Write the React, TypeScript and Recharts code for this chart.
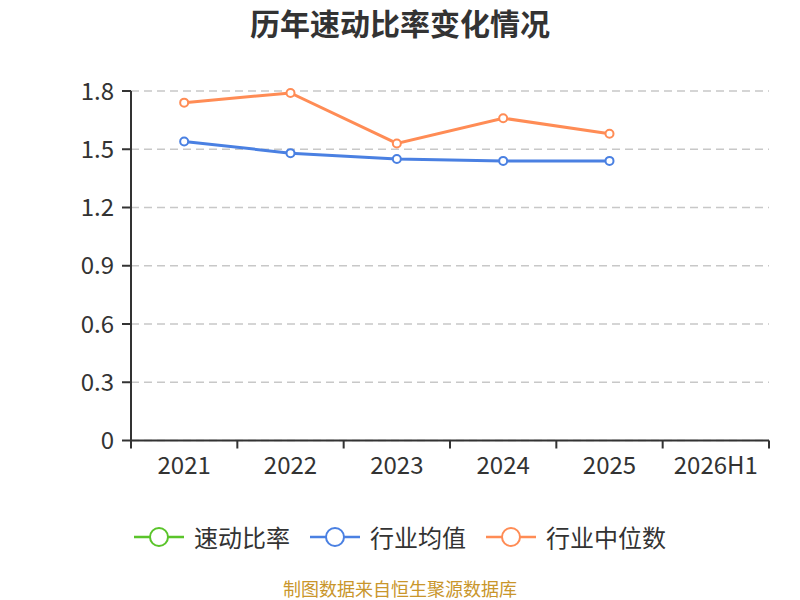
import React from "react";
import { LineChart, Line, XAxis, YAxis, CartesianGrid } from "recharts";

const categories = ["2021", "2022", "2023", "2024", "2025", "2026H1"];
const quickRatio: (number | null)[] = [null, null, null, null, null, null];
const industryMean: (number | null)[] = [1.54, 1.48, 1.45, 1.44, 1.44, null];
const industryMedian: (number | null)[] = [1.74, 1.79, 1.53, 1.66, 1.58, null];
const yTicks = [0, 0.3, 0.6, 0.9, 1.2, 1.5, 1.8];

const series = [
  { key: "quick", name: "速动比率", color: "#5ac42a" },
  { key: "mean", name: "行业均值", color: "#4a80e2" },
  { key: "median", name: "行业中位数", color: "#ff8c55" },
];

const data = categories.map((c, i) => ({
  year: c,
  quick: quickRatio[i],
  mean: industryMean[i],
  median: industryMedian[i],
}));

const FONT = '"Noto Sans CJK SC", "Noto Sans", sans-serif';
const W = 800;
const H = 600;
const LEFT = 131;
const RIGHT = 31;
const BAND = (W - LEFT - RIGHT) / categories.length;

function XTick(props: any) {
  const { x, y, payload, index } = props;
  const last = index === categories.length - 1;
  return (
    <g>
      <line x1={x - BAND / 2} x2={x - BAND / 2} y1={y} y2={y + 8} stroke="#333" strokeWidth={2} />
      {last && <line x1={x + BAND / 2} x2={x + BAND / 2} y1={y} y2={y + 8} stroke="#333" strokeWidth={2} />}
      <text x={x} y={y + 23} textAnchor="middle" dominantBaseline="central" fontSize={24} fill="#333">
        {payload.value}
      </text>
    </g>
  );
}

function LegendRow() {
  return (
    <div
      style={{
        position: "absolute",
        left: 0,
        top: 521,
        width: W,
        height: 32,
        display: "flex",
        justifyContent: "center",
        alignItems: "center",
      }}
    >
      {series.map((s, i) => (
        <div key={s.key} style={{ display: "flex", alignItems: "center", marginLeft: i ? 20 : 0 }}>
          <svg width={50} height={22} style={{ marginRight: 10 }}>
            <line x1={0} x2={50} y1={11} y2={11} stroke={s.color} strokeWidth={2.5} />
            <circle cx={25} cy={11} r={9} fill="#fff" stroke={s.color} strokeWidth={2} />
          </svg>
          <span style={{ fontSize: 24, color: "#333", lineHeight: "32px" }}>{s.name}</span>
        </div>
      ))}
    </div>
  );
}

export default function App() {
  return (
    <div style={{ position: "absolute", left: 0, top: 0, width: W, height: H, background: "#fff", fontFamily: FONT }}>
      <div
        style={{
          position: "absolute",
          top: 4,
          left: 0,
          width: W,
          textAlign: "center",
          fontSize: 30,
          lineHeight: "36px",
          fontWeight: "bold",
          color: "#333",
        }}
      >
        历年速动比率变化情况
      </div>
      <LineChart
        width={W}
        height={H}
        data={data}
        margin={{ top: 91, right: RIGHT, bottom: 119.5, left: 0 }}
      >
        <CartesianGrid vertical={false} stroke="#c8c8c8" strokeWidth={1.5} strokeDasharray="8 5" />
        <XAxis
          dataKey="year"
          height={40}
          interval={0}
          padding={{ left: BAND / 2, right: BAND / 2 }}
          tickLine={false}
          tickSize={0}
          tickMargin={0}
          axisLine={{ stroke: "#333", strokeWidth: 2 }}
          tick={<XTick />}
        />
        <YAxis
          width={LEFT}
          domain={[0, 1.8]}
          ticks={yTicks}
          interval={0}
          tickSize={9}
          tickMargin={8}
          axisLine={{ stroke: "#333", strokeWidth: 2 }}
          tickLine={{ stroke: "#333", strokeWidth: 2 }}
          tick={{ fontSize: 24, fill: "#333" }}
          tickFormatter={(v: number) => (v === 0 ? "0" : v.toFixed(1))}
        />
        {series.map((s) => (
          <Line
            key={s.key}
            type="linear"
            dataKey={s.key}
            name={s.name}
            stroke={s.color}
            strokeWidth={3}
            dot={{ r: 4, fill: "#fff", stroke: s.color, strokeWidth: 2 }}
            activeDot={false}
            isAnimationActive={false}
          />
        ))}
      </LineChart>
      <LegendRow />
      <div
        style={{
          position: "absolute",
          top: 577,
          left: 0,
          width: W,
          textAlign: "center",
          fontSize: 18,
          lineHeight: "22px",
          color: "#c9962b",
        }}
      >
        制图数据来自恒生聚源数据库
      </div>
    </div>
  );
}
